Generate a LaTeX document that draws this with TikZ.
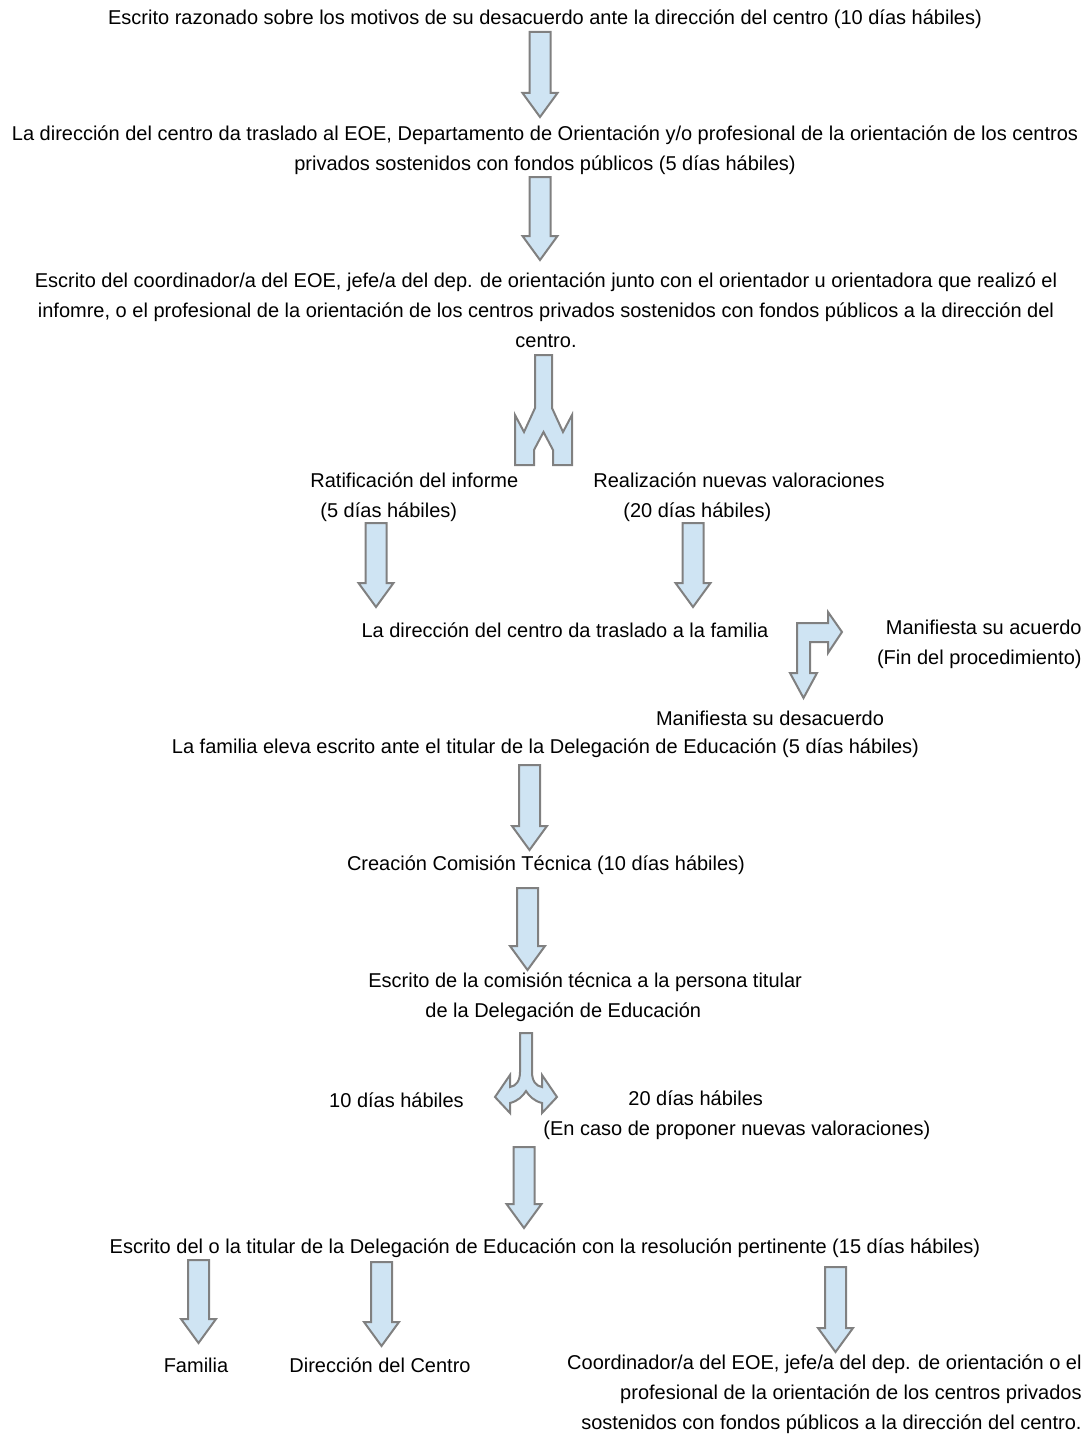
\documentclass[tikz,border=0pt]{standalone}
\usepackage{fontspec}
\setmainfont{Liberation Sans}
\usetikzlibrary{positioning}
\definecolor{arrowfill}{RGB}{207,228,243}
\definecolor{arrowline}{RGB}{128,128,128}
\tikzset{
  txt/.style={inner sep=0pt, font=\fontsize{10}{15}\selectfont},
  blockarrow/.style={draw=arrowline, fill=arrowfill, line width=1pt, line join=miter},
  pics/downarrow/.style={code={
    \draw[blockarrow] (-10.5,0) -- (10.5,0) -- (10.5,{#1-24}) -- (17.5,{#1-24})
      -- (0,#1) -- (-17.5,{#1-24}) -- (-10.5,{#1-24}) -- cycle;}},
  pics/forkarrow/.style={code={
    \draw[blockarrow] (-8.5,0) -- (8.5,0) -- (8.5,53) -- (19.5,77) -- (28.5,60)
      -- (28.5,110) -- (9.5,110) -- (9.5,95) -- (0,77) -- (-9.5,95) -- (-9.5,110)
      -- (-28.5,110) -- (-28.5,60) -- (-19.5,77) -- (-8.5,53) -- cycle;}},
  pics/splitarrow/.style={code={
    \draw[blockarrow] (-6,0) -- (6,0) -- (6,39) .. controls (6,48) and (10,53) .. (16,54)
      -- (16,42) -- (31,64) -- (16,80) -- (16,70) .. controls (8,68) and (3,63) .. (0,58)
      .. controls (-3,63) and (-8,68) .. (-16,70) -- (-16,80) -- (-31,64) -- (-16,42)
      -- (-16,54) .. controls (-10,53) and (-6,48) .. (-6,39) -- cycle;}},
  pics/bentarrow/.style={code={
    \draw[blockarrow] (0,0) -- (31,0) -- (31,-11) -- (45,9) -- (31,30) -- (31,19)
      -- (13,19) -- (13,50) -- (20,50) -- (6.5,75) -- (-7,50) -- (0,50) -- cycle;}}
}
\begin{document}
\begin{tikzpicture}[x=0.5pt,y=-0.5pt]
\useasboundingbox (0,0) rectangle (1089,1434);

\node[txt]    (escrito)    at (545,19)     {Escrito razonado sobre los motivos de su desacuerdo ante la direcci\'on del centro (10 d\'ias h\'abiles)};
\node[txt,align=center]    (traslado)    at (545,150)    {La direcci\'on del centro da traslado al EOE, Departamento de Orientaci\'on y/o profesional de la orientaci\'on de los centros\\privados sostenidos con fondos p\'ublicos (5 d\'ias h\'abiles)};
\node[txt,align=center]    (coord)    at (546,310)    {Escrito del coordinador/a del EOE, jefe/a del dep. de orientaci\'on junto con el orientador u orientadora que realiz\'o el\\infomre, o el profesional de la orientaci\'on de los centros privados sostenidos con fondos p\'ublicos a la direcci\'on del\\centro.};
\node[txt,align=left,anchor=west]    (ratif)    at (310,497.5)    {Ratificaci\'on del informe\\\hspace{5pt}(5 d\'ias h\'abiles)};
\node[txt,align=left,anchor=west]    (nuevas)    at (593,497.5)    {Realizaci\'on nuevas valoraciones\\\hspace{15pt}(20 d\'ias h\'abiles)};
\node[txt]    (familia)    at (565,630)    {La direcci\'on del centro da traslado a la familia};
\node[txt,align=right,anchor=east]    (acuerdo)    at (1082,644.5)    {Manifiesta su acuerdo\\(Fin del procedimiento)};
\node[txt]    (desacuerdo)    at (770,718)    {Manifiesta su desacuerdo};
\node[txt]    (eleva)    at (545.5,748)    {La familia eleva escrito ante el titular de la Delegaci\'on de Educaci\'on (5 d\'ias h\'abiles)};
\node[txt]    (comision)    at (546,865)    {Creaci\'on Comisi\'on T\'ecnica (10 d\'ias h\'abiles)};
\node[txt,align=left,anchor=west]    (tecnica)    at (368,997.5)    {Escrito de la comisi\'on t\'ecnica a la persona titular\\\hspace{28.5pt}de la Delegaci\'on de Educaci\'on};
\node[txt]    (diez)    at (396.5,1100)    {10 d\'ias h\'abiles};
\node[txt,align=left,anchor=west]    (veinte)    at (543,1115)    {\hspace{42.5pt}20 d\'ias h\'abiles\\(En caso de proponer nuevas valoraciones)};
\node[txt]    (resol)    at (545,1248)    {Escrito del o la titular de la Delegaci\'on de Educaci\'on con la resoluci\'on pertinente (15 d\'ias h\'abiles)};
\node[txt]    (fam)    at (196,1365)    {Familia};
\node[txt]    (dir)    at (380,1365)    {Direcci\'on del Centro};
\node[txt,align=right,anchor=east]    (orient)    at (1082,1394.5)    {Coordinador/a del EOE, jefe/a del dep. de orientaci\'on o el\\profesional de la orientaci\'on de los centros privados\\sostenidos con fondos p\'ublicos a la direcci\'on del centro.};

\pic at (540,32)      {downarrow=85};
\pic at (540,177)     {downarrow=83};
\pic at (543.5,355)   {forkarrow};
\pic at (376,523)     {downarrow=84};
\pic at (693,523)     {downarrow=84};
\pic at (797,623)     {bentarrow};
\pic at (529.5,765)   {downarrow=85};
\pic at (527.5,888)   {downarrow=82};
\pic at (526,1033)    {splitarrow};
\pic at (524,1147)    {downarrow=81};
\pic at (198.5,1260)  {downarrow=83};
\pic at (381.5,1262)  {downarrow=84};
\pic at (835.5,1267)  {downarrow=85};
\end{tikzpicture}
\end{document}
